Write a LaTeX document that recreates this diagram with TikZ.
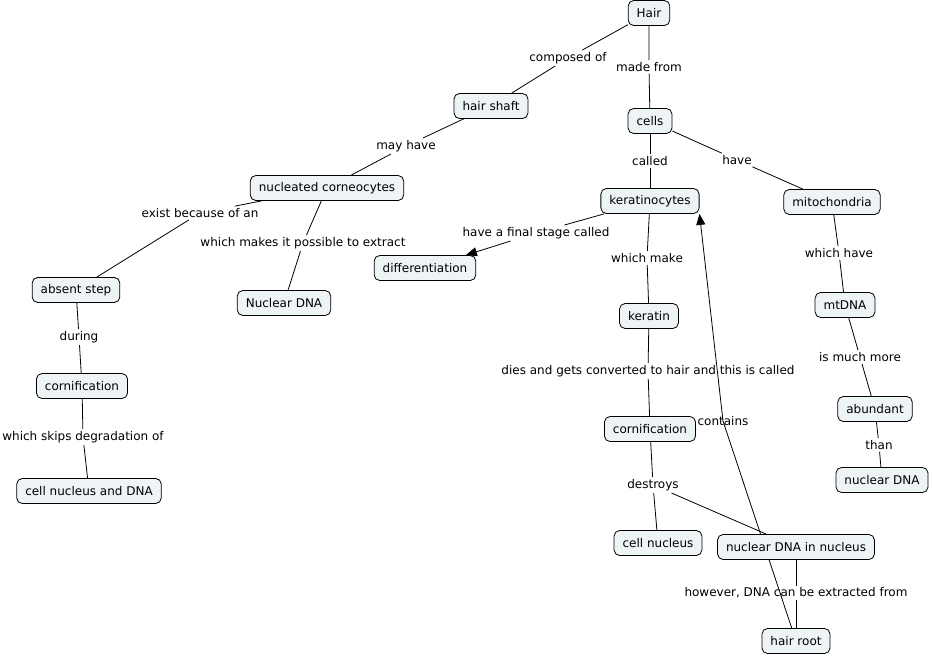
\documentclass[tikz,border=0pt]{standalone}
\usepackage{fontspec}
\usepackage{tikz}
\usetikzlibrary{arrows.meta}
\newfontfamily\cmapfont{DejaVu Sans}
\definecolor{boxfill}{HTML}{EEF3F5}
\pgfdeclarelayer{back}
\pgfsetlayers{back,main}
\tikzset{>={Triangle[length=11pt,width=9pt]}}
\tikzset{
	concept/.style={draw=black, line width=0.8pt, fill=boxfill, rounded corners=5.5pt,
		minimum height=25pt, inner xsep=8.5pt, inner ysep=2pt,
		font=\cmapfont\fontsize{12}{14}\selectfont},
	linkname/.style={inner xsep=1pt, inner ysep=2pt,
		font=\cmapfont\fontsize{12}{14}\selectfont},
	link/.style={draw=black, line width=0.8pt}
}

\begin{document}
\begin{tikzpicture}[x=1pt,y=-1pt,line cap=round,line join=round]
	\useasboundingbox (0,0) rectangle (932,657);
	% concepts
	\node[concept] (hair) at (649,13) {Hair};
	\node[concept] (shaft) at (491,106) {hair shaft};
	\node[concept] (cells) at (650,121) {cells};
	\node[concept] (corneo) at (327,188) {nucleated corneocytes};
	\node[concept] (kerato) at (650,201) {keratinocytes};
	\node[concept] (mito) at (832,202) {mitochondria};
	\node[concept] (diff) at (425,268) {differentiation};
	\node[concept] (absent) at (76,290) {absent step};
	\node[concept] (nucDNAa) at (284,303) {Nuclear DNA};
	\node[concept] (keratin) at (649,316) {keratin};
	\node[concept] (mtdna) at (845,305) {mtDNA};
	\node[concept] (cornL) at (82,386) {cornification};
	\node[concept] (abund) at (875,409) {abundant};
	\node[concept] (cornM) at (650,429) {cornification};
	\node[concept] (nucDNAb) at (882,480) {nuclear DNA};
	\node[concept] (cellnucDNA) at (89,491) {cell nucleus and DNA};
	\node[concept] (cellnuc) at (658,543) {cell nucleus};
	\node[concept] (nucInNuc) at (796,547) {nuclear DNA in nucleus};
	\node[concept] (root) at (796,641) {hair root};
	% linking phrases
	\node[linkname] (lComposed) at (568,58) {composed of};
	\node[linkname] (lMade) at (649,67) {made from};
	\node[linkname] (lMay) at (406,146) {may have};
	\node[linkname] (lCalled) at (650,161) {called};
	\node[linkname] (lHave) at (737,160) {have};
	\node[linkname] (lExist) at (200,213) {exist because of an};
	\node[linkname] (lMakes) at (303,243) {which makes it possible to extract};
	\node[linkname] (lFinal) at (536,233) {have a final stage called};
	\node[linkname] (lMake) at (647,258) {which make};
	\node[linkname] (lWhichHave) at (839,253) {which have};
	\node[linkname] (lDuring) at (79,337) {during};
	\node[linkname] (lMore) at (860,357) {is much more};
	\node[linkname] (lDies) at (648,371) {dies and gets converted to hair and this is called};
	\node[linkname] (lContains) at (723,421) {contains};
	\node[linkname] (lSkips) at (83,437) {which skips degradation of};
	\node[linkname] (lThan) at (879,445) {than};
	\node[linkname] (lDestroys) at (653,485) {destroys};
	\node[linkname] (lExtracted) at (796,593) {however, DNA can be extracted from};
	% connectors
	\begin{pgfonlayer}{back}
	\draw[link] (hair) -- (lComposed) (lComposed) -- (shaft);
	\draw[link] (hair) -- (lMade) (lMade) -- (cells);
	\draw[link] (shaft) -- (lMay) (lMay) -- (corneo);
	\draw[link] (cells) -- (lCalled) (lCalled) -- (kerato);
	\draw[link] (cells) -- (lHave) (lHave) -- (mito);
	\draw[link] (corneo) -- (lExist) (lExist) -- (absent);
	\draw[link] (corneo) -- (lMakes) (lMakes) -- (nucDNAa);
	\draw[link] (kerato) -- (lFinal);
	\draw[link,->] (lFinal) -- (diff);
	\draw[link] (kerato) -- (lMake) (lMake) -- (keratin);
	\draw[link] (mito) -- (lWhichHave) (lWhichHave) -- (mtdna);
	\draw[link] (absent) -- (lDuring) (lDuring) -- (cornL);
	\draw[link] (mtdna) -- (lMore) (lMore) -- (abund);
	\draw[link] (keratin) -- (lDies) (lDies) -- (cornM);
	\draw[link,->] (root) -- (lContains.center) -- (kerato.south east);
	\draw[link] (cornL) -- (lSkips) (lSkips) -- (cellnucDNA);
	\draw[link] (abund) -- (lThan) (lThan) -- (nucDNAb);
	\draw[link] (cornM) -- (lDestroys) (lDestroys) -- (cellnuc);
	\draw[link] (lDestroys) -- (nucInNuc);
	\draw[link] (nucInNuc) -- (lExtracted) (lExtracted) -- (root);
	\end{pgfonlayer}
\end{tikzpicture}
\end{document}
